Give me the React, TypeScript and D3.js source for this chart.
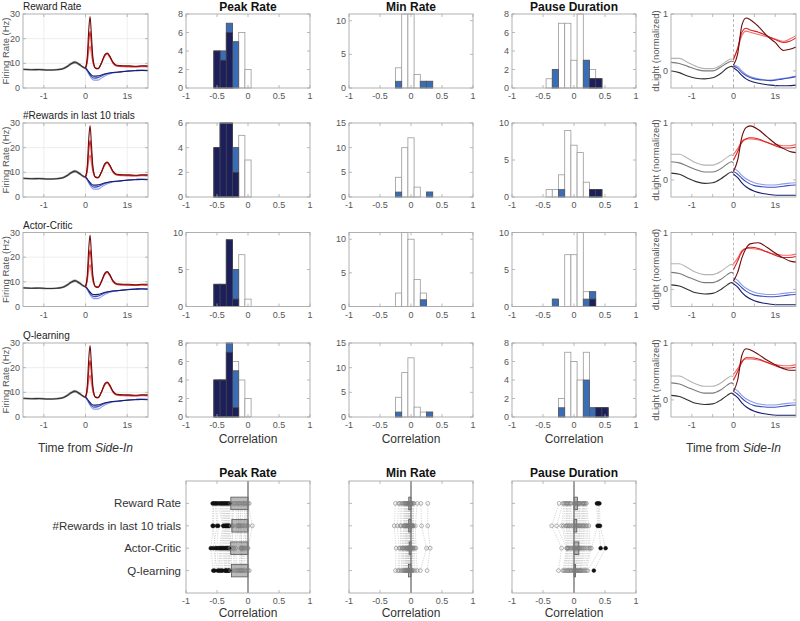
import React from "react";
import * as d3 from "d3";

const FONT = "'Liberation Sans', Arial, Helvetica, sans-serif";

const models = ["Reward Rate", "#Rewards in last 10 trials", "Actor-Critic", "Q-learning"];
const measures = ["Peak Rate", "Min Rate", "Pause Duration"];
const corrTicks = [-1, -0.5, 0, 0.5, 1];
const corrTickLabels = ["-1", "-0.5", "0", "0.5", "1"];
const binCenters = [-0.5, -0.4, -0.3, -0.2, -0.1, 0, 0.1, 0.2, 0.3, 0.4, 0.5];
const binWidth = 0.1;

// ---- histogram counts: [model][bin] ----
const peakAll = [
  [4, 4, 7, 5, 6, 2, 0, 0, 0, 0, 0],
  [4, 6, 6, 4, 5, 3, 0, 0, 0, 0, 0],
  [3, 3, 9, 5, 7, 1, 0, 0, 0, 0, 0],
  [4, 4, 8, 6, 4, 2, 0, 0, 0, 0, 0],
];
const peakSig = [
  [4, 4, 7, 5, 0, 0, 0, 0, 0, 0, 0],
  [4, 6, 6, 4, 0, 0, 0, 0, 0, 0, 0],
  [3, 3, 9, 5, 0, 0, 0, 0, 0, 0, 0],
  [4, 4, 8, 5, 0, 0, 0, 0, 0, 0, 0],
];
const peakDark = [
  [4, 3, 6, 0, 0, 0, 0, 0, 0, 0, 0],
  [4, 6, 6, 2, 0, 0, 0, 0, 0, 0, 0],
  [3, 3, 9, 1, 0, 0, 0, 0, 0, 0, 0],
  [4, 4, 7, 1, 0, 0, 0, 0, 0, 0, 0],
];
const peakYMax = [8, 6, 10, 8];
const peakYTicks = [[0, 2, 4, 6, 8], [0, 2, 4, 6], [0, 5, 10], [0, 2, 4, 6, 8]];

const minAll = [
  [0, 0, 0, 3, 11, 11, 2, 1, 1, 0, 0],
  [0, 0, 0, 4, 10, 12, 2, 0, 1, 0, 0],
  [0, 0, 0, 2, 11, 10, 4, 2, 0, 0, 0],
  [0, 0, 0, 4, 9, 12, 2, 1, 1, 0, 0],
];
const minSig = [
  [0, 0, 0, 1, 0, 0, 0, 1, 1, 0, 0],
  [0, 0, 0, 1, 0, 0, 0, 0, 1, 0, 0],
  [0, 0, 0, 0, 0, 0, 0, 1, 0, 0, 0],
  [0, 0, 0, 1, 0, 0, 0, 0, 1, 0, 0],
];
const minDark = [
  [0, 0, 0, 0, 0, 0, 0, 0, 0, 0, 0],
  [0, 0, 0, 0, 0, 0, 0, 0, 0, 0, 0],
  [0, 0, 0, 0, 0, 0, 0, 0, 0, 0, 0],
  [0, 0, 0, 0, 0, 0, 0, 0, 0, 0, 0],
];
const minYMax = [11, 15, 11, 15];
const minYTicks = [[0, 5, 10], [0, 5, 10, 15], [0, 5, 10], [0, 5, 10, 15]];

const pauseAll = [
  [0, 1, 2, 7, 7, 3, 8, 3, 2, 1, 0],
  [0, 1, 1, 3, 9, 7, 6, 2, 1, 1, 0],
  [0, 0, 1, 0, 7, 7, 10, 2, 2, 0, 0],
  [0, 0, 0, 2, 7, 6, 4, 7, 1, 1, 1],
];
const pauseSig = [
  [0, 0, 2, 0, 0, 0, 0, 3, 1, 1, 0],
  [0, 0, 0, 1, 0, 0, 0, 0, 1, 1, 0],
  [0, 0, 1, 0, 0, 0, 0, 1, 2, 0, 0],
  [0, 0, 0, 1, 0, 0, 0, 4, 1, 1, 1],
];
const pauseDark = [
  [0, 0, 0, 0, 0, 0, 0, 0, 1, 1, 0],
  [0, 0, 0, 0, 0, 0, 0, 0, 1, 1, 0],
  [0, 0, 0, 0, 0, 0, 0, 0, 1, 0, 0],
  [0, 0, 0, 0, 0, 0, 0, 0, 0, 1, 1],
];
const pauseYMax = [8, 10, 10, 8];
const pauseYTicks = [[0, 2, 4, 6, 8], [0, 5, 10], [0, 5, 10], [0, 2, 4, 6, 8]];

// ---- per-neuron correlations (bottom panels): [model][neuron] ----
const peakVals = [
  [-0.57, -0.55, -0.53, -0.51, -0.49, -0.46, -0.44, -0.42, -0.4, -0.38, -0.36, -0.34, -0.32, -0.3, -0.28, -0.25, -0.22, -0.2, -0.17, -0.15, -0.13, -0.1, -0.08, -0.06, -0.04, -0.02, 0.0, 0.02],
  [-0.56, -0.57, -0.5, -0.48, -0.4, -0.39, -0.37, -0.36, -0.35, -0.34, -0.33, -0.32, -0.31, -0.3, -0.27, -0.24, -0.26, -0.18, -0.15, -0.16, -0.12, -0.14, -0.1, -0.05, -0.02, 0.0, 0.07, -0.08],
  [-0.6, -0.52, -0.56, -0.5, -0.47, -0.45, -0.43, -0.41, -0.39, -0.37, -0.35, -0.33, -0.31, -0.3, -0.29, -0.27, -0.24, -0.23, -0.2, -0.12, -0.1, -0.09, -0.11, -0.08, -0.06, -0.03, 0.0, -0.01],
  [-0.56, -0.54, -0.49, -0.47, -0.45, -0.43, -0.41, -0.37, -0.36, -0.35, -0.34, -0.32, -0.31, -0.3, -0.28, -0.26, -0.22, -0.19, -0.17, -0.15, -0.13, -0.11, -0.1, -0.08, -0.06, -0.03, 0.0, 0.02],
];
const minVals = [
  [-0.25, -0.2, -0.18, -0.15, -0.13, -0.11, -0.1, -0.09, -0.08, -0.07, -0.06, -0.05, -0.05, -0.04, -0.03, -0.03, -0.02, -0.02, -0.01, -0.01, 0.0, 0.0, 0.01, 0.02, 0.03, 0.05, 0.1, 0.16, 0.27],
  [-0.27, -0.22, -0.17, -0.16, -0.12, -0.11, -0.09, -0.1, -0.07, -0.08, -0.06, -0.04, -0.05, -0.04, -0.02, -0.03, -0.01, -0.02, 0.0, -0.01, 0.01, 0.0, 0.02, 0.01, 0.04, 0.03, 0.07, 0.17, 0.27],
  [-0.24, -0.19, -0.17, -0.14, -0.14, -0.12, -0.11, -0.08, -0.09, -0.06, -0.07, -0.05, -0.06, -0.03, -0.04, -0.02, -0.03, -0.01, -0.02, 0.0, -0.01, 0.01, 0.02, 0.03, 0.04, 0.06, 0.08, 0.25, 0.31],
  [-0.25, -0.21, -0.19, -0.16, -0.14, -0.12, -0.11, -0.1, -0.09, -0.08, -0.07, -0.06, -0.06, -0.05, -0.04, -0.04, -0.03, -0.02, -0.02, -0.01, 0.0, 0.0, 0.01, 0.02, 0.03, 0.06, 0.1, 0.15, 0.26],
];
const pauseVals = [
  [-0.24, -0.18, -0.16, -0.14, -0.12, -0.11, -0.1, -0.08, -0.06, -0.05, 0.0, 0.02, 0.03, 0.05, 0.06, 0.07, 0.08, 0.09, 0.1, 0.13, 0.14, 0.15, 0.16, 0.17, 0.19, 0.2, 0.37, 0.39, 0.41],
  [-0.36, -0.28, -0.2, -0.17, -0.13, -0.12, -0.1, -0.08, -0.07, -0.04, -0.02, 0.0, 0.02, 0.03, 0.05, 0.06, 0.08, 0.09, 0.1, 0.12, 0.14, 0.15, 0.17, 0.19, 0.21, 0.24, 0.38, 0.4, 0.42],
  [-0.2, -0.12, -0.11, -0.1, -0.09, -0.07, -0.05, -0.03, -0.01, 0.0, 0.01, 0.02, 0.03, 0.05, 0.06, 0.07, 0.08, 0.09, 0.1, 0.12, 0.14, 0.16, 0.18, 0.21, 0.24, 0.26, 0.28, 0.43, 0.51],
  [-0.25, -0.18, -0.16, -0.14, -0.12, -0.1, -0.09, -0.07, -0.05, -0.04, -0.02, 0.0, 0.01, 0.02, 0.03, 0.04, 0.05, 0.06, 0.08, 0.09, 0.1, 0.11, 0.12, 0.14, 0.16, 0.18, 0.2, 0.22, 0.32],
];
// significance thresholds for filled markers
const peakFilledBelow = -0.295;
const pauseFilledAbove = 0.3;

// ---- firing-rate traces (Hz) ----
const frPreT = [-1.5, -1.3, -1.1, -0.9, -0.7, -0.55, -0.45, -0.35, -0.25, -0.15, -0.05, 0];
const frPre = [
  [7.8, 7.6, 7.7, 7.5, 7.6, 8.0, 8.9, 10.1, 10.8, 9.9, 8.6, 8.2],
  [7.4, 7.3, 7.3, 7.2, 7.3, 7.6, 8.4, 9.5, 10.2, 9.3, 8.2, 7.8],
  [7.6, 7.4, 7.5, 7.3, 7.4, 7.8, 8.6, 9.8, 10.5, 9.6, 8.4, 8.0],
];
const frRedT = [0, 0.04, 0.08, 0.11, 0.14, 0.18, 0.24, 0.3, 0.38, 0.46, 0.52, 0.58, 0.66, 0.75, 0.9, 1.05, 1.2, 1.35, 1.5];
const frRed = [
  [8.0, 10, 15, 17, 14, 10, 8.2, 8, 10, 12.8, 13.8, 12.5, 10.0, 8.8, 8.6, 8.5, 8.5, 8.6, 8.5],
  [8.0, 11, 19, 23, 18, 11, 8, 7.8, 10, 13.0, 14.0, 12.8, 10.2, 9.0, 8.8, 8.7, 8.6, 8.8, 8.7],
  [8.0, 12, 24, 29, 22, 12, 8, 7.8, 10, 13.5, 14.2, 13, 10.5, 9.2, 9.0, 9.0, 8.8, 9.0, 9.0],
];
const frBlueT = [0, 0.05, 0.1, 0.15, 0.2, 0.3, 0.4, 0.5, 0.6, 0.8, 1.0, 1.2, 1.35, 1.5];
const frBlue = [
  [8.0, 6.6, 5.0, 3.8, 3.2, 3.2, 4.2, 5.2, 5.8, 6.4, 6.8, 7.1, 7.3, 7.2],
  [8.0, 6.9, 5.5, 4.5, 4.0, 4.2, 5.0, 5.7, 6.1, 6.5, 6.9, 7.1, 7.2, 7.1],
  [8.0, 7.2, 6.0, 5.1, 4.8, 4.9, 5.4, 5.9, 6.2, 6.5, 6.8, 7.0, 7.1, 7.0],
];

// ---- dLight traces (normalized): [row][light, mid, dark][t] ----
const dlPreT = [-1.5, -1.3, -1.1, -0.9, -0.7, -0.5, -0.3, -0.15, -0.05, 0];
const dlPre = [
  [[0.22, 0.22, 0.15, 0.08, 0.04, 0.04, 0.1, 0.18, 0.21, 0.2], [0.15, 0.13, 0.08, 0.03, 0.0, 0.0, 0.07, 0.14, 0.17, 0.16], [0.0, -0.03, -0.09, -0.13, -0.14, -0.12, -0.04, 0.05, 0.08, 0.06]],
  [[0.45, 0.45, 0.38, 0.3, 0.26, 0.26, 0.32, 0.4, 0.44, 0.42], [0.32, 0.3, 0.24, 0.18, 0.14, 0.14, 0.2, 0.28, 0.32, 0.3], [0.12, 0.1, 0.03, -0.03, -0.06, -0.05, 0.02, 0.1, 0.14, 0.12]],
  [[0.45, 0.45, 0.38, 0.3, 0.26, 0.26, 0.32, 0.4, 0.44, 0.42], [0.3, 0.28, 0.22, 0.16, 0.12, 0.12, 0.18, 0.26, 0.3, 0.28], [0.08, 0.06, 0.0, -0.06, -0.08, -0.07, 0.0, 0.08, 0.12, 0.1]],
  [[0.42, 0.42, 0.35, 0.28, 0.24, 0.24, 0.3, 0.38, 0.42, 0.4], [0.3, 0.28, 0.22, 0.16, 0.12, 0.12, 0.18, 0.26, 0.3, 0.28], [0.08, 0.06, 0.0, -0.06, -0.08, -0.07, 0.0, 0.08, 0.12, 0.1]],
];
const dlRedT = [0, 0.1, 0.2, 0.3, 0.4, 0.6, 0.8, 1.0, 1.2, 1.35, 1.5];
const dlRed = [
  [[0.22, 0.38, 0.62, 0.7, 0.68, 0.64, 0.6, 0.56, 0.52, 0.56, 0.62], [0.2, 0.4, 0.68, 0.75, 0.72, 0.68, 0.62, 0.55, 0.5, 0.52, 0.58], [0.1, 0.3, 0.8, 0.93, 0.9, 0.78, 0.62, 0.5, 0.36, 0.38, 0.42]],
  [[0.45, 0.55, 0.68, 0.72, 0.72, 0.7, 0.66, 0.62, 0.6, 0.6, 0.62], [0.35, 0.5, 0.66, 0.72, 0.74, 0.72, 0.66, 0.6, 0.56, 0.56, 0.58], [0.15, 0.35, 0.75, 0.92, 0.95, 0.88, 0.76, 0.64, 0.55, 0.5, 0.48]],
  [[0.45, 0.55, 0.68, 0.72, 0.72, 0.7, 0.66, 0.62, 0.6, 0.6, 0.62], [0.35, 0.5, 0.66, 0.72, 0.74, 0.72, 0.66, 0.6, 0.56, 0.56, 0.58], [0.15, 0.3, 0.55, 0.72, 0.8, 0.82, 0.74, 0.64, 0.55, 0.5, 0.48]],
  [[0.45, 0.55, 0.68, 0.72, 0.72, 0.7, 0.66, 0.62, 0.6, 0.6, 0.62], [0.35, 0.5, 0.66, 0.74, 0.74, 0.72, 0.66, 0.6, 0.56, 0.56, 0.58], [0.15, 0.35, 0.78, 0.9, 0.88, 0.8, 0.7, 0.62, 0.55, 0.52, 0.52]],
];
const dlBlueT = [0, 0.1, 0.2, 0.3, 0.5, 0.7, 0.9, 1.1, 1.3, 1.5];
const dlBlue = [
  [[0.1, 0.08, 0.0, -0.06, -0.12, -0.15, -0.16, -0.14, -0.12, -0.09], [0.08, 0.05, -0.03, -0.08, -0.14, -0.16, -0.17, -0.15, -0.13, -0.1], [0.05, 0.0, -0.08, -0.14, -0.2, -0.23, -0.25, -0.26, -0.26, -0.25]],
  [[0.2, 0.16, 0.08, 0.02, -0.05, -0.08, -0.09, -0.08, -0.06, -0.05], [0.15, 0.1, 0.03, -0.03, -0.1, -0.12, -0.13, -0.12, -0.1, -0.09], [0.1, 0.04, -0.05, -0.12, -0.2, -0.24, -0.26, -0.27, -0.27, -0.27]],
  [[0.2, 0.16, 0.08, 0.02, -0.05, -0.08, -0.09, -0.08, -0.06, -0.05], [0.15, 0.1, 0.03, -0.03, -0.1, -0.12, -0.13, -0.12, -0.1, -0.09], [0.1, 0.04, -0.05, -0.12, -0.2, -0.24, -0.26, -0.27, -0.27, -0.27]],
  [[0.2, 0.16, 0.08, 0.02, -0.05, -0.08, -0.09, -0.08, -0.06, -0.05], [0.15, 0.1, 0.03, -0.03, -0.1, -0.12, -0.13, -0.12, -0.1, -0.09], [0.1, 0.04, -0.05, -0.12, -0.2, -0.24, -0.26, -0.27, -0.27, -0.27]],
];

const greys = ["#b4b4b4", "#7a7a7a", "#303030"];
const reds = ["#f26b6b", "#d92020", "#6a0d0d"];
const blues = ["#8a9ce8", "#3d4fc0", "#171c6a"];

// ---- layout ----
const colX: [number, number][] = [[23, 148], [186, 310], [349, 473], [512, 636], [671, 796]];
const rowTop = [14, 123, 232.5, 343];
const rowH = 74;
const botTop = 481;
const botBot = 593;

const AX = "#a8a8a8";
const TXT = "#555";

type AxProps = {
  xs: d3.ScaleLinear<number, number>;
  ys: d3.ScaleLinear<number, number>;
  xTicks: number[];
  xLabels?: string[];
  yTicks: number[];
  yLabels?: string[];
};

function Axes({ xs, ys, xTicks, xLabels, yTicks, yLabels }: AxProps) {
  const [x0, x1] = xs.range();
  const yr = ys.range();
  const yb = Math.max(yr[0], yr[1]);
  const yt = Math.min(yr[0], yr[1]);
  return (
    <g fontFamily={FONT} fontSize={9} fill={TXT}>
      <rect x={x0} y={yt} width={x1 - x0} height={yb - yt} fill="none" stroke={AX} strokeWidth={0.9} />
      {xTicks.map((t, i) => (
        <g key={"x" + i}>
          <line x1={xs(t)} x2={xs(t)} y1={yb} y2={yb - 3} stroke={AX} strokeWidth={0.8} />
          <line x1={xs(t)} x2={xs(t)} y1={yt} y2={yt + 3} stroke={AX} strokeWidth={0.8} />
          {xLabels && (
            <text x={xs(t)} y={yb + 11} textAnchor="middle">
              {xLabels[i]}
            </text>
          )}
        </g>
      ))}
      {yTicks.map((t, i) => (
        <g key={"y" + i}>
          <line x1={x0} x2={x0 + 3} y1={ys(t)} y2={ys(t)} stroke={AX} strokeWidth={0.8} />
          <line x1={x1} x2={x1 - 3} y1={ys(t)} y2={ys(t)} stroke={AX} strokeWidth={0.8} />
          {yLabels && (
            <text x={x0 - 3} y={ys(t) + 3} textAnchor="end">
              {yLabels[i]}
            </text>
          )}
        </g>
      ))}
    </g>
  );
}

function Grid({ xs, ys, xTicks, yTicks }: { xs: any; ys: any; xTicks: number[]; yTicks: number[] }) {
  const [x0, x1] = xs.range();
  const [yb, yt] = ys.range();
  return (
    <g stroke="#e6e6e6" strokeWidth={0.7}>
      {xTicks.map((t, i) => (
        <line key={"gx" + i} x1={xs(t)} x2={xs(t)} y1={yt} y2={yb} />
      ))}
      {yTicks.map((t, i) => (
        <line key={"gy" + i} x1={x0} x2={x1} y1={ys(t)} y2={ys(t)} />
      ))}
    </g>
  );
}

function Traces({ xs, ys, T, sets, colors, width }: { xs: any; ys: any; T: number[]; sets: number[][]; colors: string[]; width: number }) {
  const line = d3
    .line<number>()
    .x((_, i) => xs(T[i]))
    .y((v) => ys(v))
    .curve(d3.curveMonotoneX);
  return (
    <g fill="none">
      {sets.map((s, i) => (
        <path key={i} d={line(s) || ""} stroke={colors[i]} strokeWidth={width} />
      ))}
    </g>
  );
}

function FRPanel({ r }: { r: number }) {
  const xs = d3.scaleLinear().domain([-1.5, 1.5]).range(colX[0]);
  const ys = d3.scaleLinear().domain([0, 30]).range([rowTop[r] + rowH, rowTop[r]]);
  return (
    <g>
      <Grid xs={xs} ys={ys} xTicks={[-1, 0, 1]} yTicks={[10, 20]} />
      <Traces xs={xs} ys={ys} T={frPreT} sets={frPre} colors={greys} width={1.1} />
      <Traces xs={xs} ys={ys} T={frBlueT} sets={frBlue} colors={blues} width={1.1} />
      <Traces xs={xs} ys={ys} T={frRedT} sets={frRed} colors={reds} width={1.1} />
      <Axes xs={xs} ys={ys} xTicks={[-1, 0, 1]} xLabels={["-1", "0", "1s"]} yTicks={[0, 10, 20, 30]} yLabels={["0", "10", "20", "30"]} />
      <text x={colX[0][0]} y={rowTop[r] - 4} fontFamily={FONT} fontSize={10} fill="#222">
        {models[r]}
      </text>
      <text
        transform={`translate(${9},${rowTop[r] + rowH / 2}) rotate(-90)`}
        textAnchor="middle"
        fontFamily={FONT}
        fontSize={9.5}
        fill={TXT}
      >
        Firing Rate (Hz)
      </text>
    </g>
  );
}

function DLPanel({ r }: { r: number }) {
  const xs = d3.scaleLinear().domain([-1.5, 1.5]).range(colX[4]);
  const ys = d3.scaleLinear().domain([-0.3, 1]).range([rowTop[r] + rowH, rowTop[r]]);
  return (
    <g>
      <line x1={xs(0)} x2={xs(0)} y1={rowTop[r]} y2={rowTop[r] + rowH} stroke="#aaa" strokeWidth={0.8} strokeDasharray="3,2" />
      <Traces xs={xs} ys={ys} T={dlPreT} sets={dlPre[r]} colors={greys} width={1.1} />
      <Traces xs={xs} ys={ys} T={dlBlueT} sets={dlBlue[r]} colors={blues} width={1.1} />
      <Traces xs={xs} ys={ys} T={dlRedT} sets={dlRed[r]} colors={reds} width={1.1} />
      <Axes xs={xs} ys={ys} xTicks={[-1, -0.5, 0, 0.5, 1]} xLabels={["-1", "", "0", "", "1s"]} yTicks={[0, 1]} yLabels={["0", "1"]} />
      <text
        transform={`translate(${659},${rowTop[r] + rowH / 2}) rotate(-90)`}
        textAnchor="middle"
        fontFamily={FONT}
        fontSize={9.5}
        fill={TXT}
      >
        dLight (normalized)
      </text>
    </g>
  );
}

function HistPanel({ c, r, all, sig, dark, yMax, yTicks }: { c: number; r: number; all: number[]; sig: number[]; dark: number[]; yMax: number; yTicks: number[] }) {
  const xs = d3.scaleLinear().domain([-1, 1]).range(colX[c]);
  const ys = d3.scaleLinear().domain([0, yMax]).range([rowTop[r] + rowH, rowTop[r]]);
  const bar = (counts: number[], fill: string, stroke: string, key: string) =>
    counts.map((n, i) =>
      n > 0 ? (
        <rect
          key={key + i}
          x={xs(binCenters[i] - binWidth / 2)}
          y={ys(Math.min(n, yMax))}
          width={xs(binCenters[i] + binWidth / 2) - xs(binCenters[i] - binWidth / 2)}
          height={ys(0) - ys(Math.min(n, yMax))}
          fill={fill}
          stroke={stroke}
          strokeWidth={0.8}
        />
      ) : null
    );
  return (
    <g>
      {bar(all, "#ffffff", "#9a9a9a", "a")}
      {bar(sig, "#3a6db8", "#555", "s")}
      {bar(dark, "#1c1f5c", "#444", "d")}
      <Axes xs={xs} ys={ys} xTicks={corrTicks} xLabels={corrTickLabels} yTicks={yTicks} yLabels={yTicks.map(String)} />
    </g>
  );
}

function DotPanel({ c, vals, filled, showLabels, title }: { c: number; vals: number[][]; filled: (v: number) => boolean; showLabels: boolean; title: string }) {
  const xs = d3.scaleLinear().domain([-1, 1]).range(colX[c]);
  const ys = d3.scaleLinear().domain([0, 5]).range([botTop, botBot]);
  const n = vals[0].length;
  const barH = ys(0.56) - ys(0);
  const lines: React.ReactNode[] = [];
  for (let r = 0; r < vals.length - 1; r++) {
    for (let i = 0; i < n; i++) {
      lines.push(
        <line
          key={`l${r}-${i}`}
          x1={xs(vals[r][i])}
          y1={ys(r + 1)}
          x2={xs(vals[r + 1][i])}
          y2={ys(r + 2)}
          stroke="#b8b8b8"
          strokeWidth={0.6}
          strokeDasharray="1.2,1.2"
        />
      );
    }
  }
  return (
    <g>
      {lines}
      {vals.map((row, r) => {
        const m = d3.mean(row) as number;
        return (
          <rect
            key={"b" + r}
            x={Math.min(xs(m), xs(0))}
            y={ys(r + 1) - barH / 2}
            width={Math.abs(xs(m) - xs(0))}
            height={barH}
            fill="rgba(130,130,130,0.55)"
            stroke="#555"
            strokeWidth={0.8}
          />
        );
      })}
      <line x1={xs(0)} x2={xs(0)} y1={botTop} y2={botBot} stroke="#777" strokeWidth={1.4} />
      {vals.map((row, r) =>
        row.map((v, i) =>
          filled(v) ? (
            <circle key={`p${r}-${i}`} cx={xs(v)} cy={ys(r + 1)} r={1.9} fill="#111" stroke="#111" strokeWidth={0.5} />
          ) : (
            <circle key={`p${r}-${i}`} cx={xs(v)} cy={ys(r + 1)} r={1.9} fill="none" stroke="#7a7a7a" strokeWidth={0.6} />
          )
        )
      )}
      <Axes xs={xs} ys={ys} xTicks={corrTicks} xLabels={corrTickLabels} yTicks={[1, 2, 3, 4]} />
      {showLabels &&
        models.map((m, r) => (
          <text key={"m" + r} x={colX[c][0] - 5} y={ys(r + 1) + 4} textAnchor="end" fontFamily={FONT} fontSize={11.5} fill="#333">
            {m}
          </text>
        ))}
      <text x={(colX[c][0] + colX[c][1]) / 2} y={botTop - 4} textAnchor="middle" fontFamily={FONT} fontSize={12} fontWeight="bold" fill="#111">
        {title}
      </text>
      <text x={(colX[c][0] + colX[c][1]) / 2} y={617} textAnchor="middle" fontFamily={FONT} fontSize={12} fill="#333">
        Correlation
      </text>
    </g>
  );
}

function TimeLabel({ x, y }: { x: number; y: number }) {
  return (
    <text x={x} y={y} textAnchor="middle" fontFamily={FONT} fontSize={12} fill="#333">
      Time from <tspan fontStyle="italic">Side-In</tspan>
    </text>
  );
}

export default function App() {
  const rows = [0, 1, 2, 3];
  const hist = [
    { all: peakAll, sig: peakSig, dark: peakDark, yMax: peakYMax, yTicks: peakYTicks },
    { all: minAll, sig: minSig, dark: minDark, yMax: minYMax, yTicks: minYTicks },
    { all: pauseAll, sig: pauseSig, dark: pauseDark, yMax: pauseYMax, yTicks: pauseYTicks },
  ];
  return (
    <svg width={800} height={621} style={{ position: "absolute", left: 0, top: 0, background: "#fff" }}>
      <rect width={800} height={621} fill="#fff" />
      {rows.map((r) => (
        <g key={"row" + r}>
          <FRPanel r={r} />
          {hist.map((h, k) => (
            <HistPanel key={k} c={k + 1} r={r} all={h.all[r]} sig={h.sig[r]} dark={h.dark[r]} yMax={h.yMax[r]} yTicks={h.yTicks[r]} />
          ))}
          <DLPanel r={r} />
        </g>
      ))}
      {measures.map((m, k) => (
        <text key={"t" + k} x={(colX[k + 1][0] + colX[k + 1][1]) / 2} y={11} textAnchor="middle" fontFamily={FONT} fontSize={12} fontWeight="bold" fill="#111">
          {m}
        </text>
      ))}
      <TimeLabel x={(colX[0][0] + colX[0][1]) / 2} y={452} />
      <TimeLabel x={(colX[4][0] + colX[4][1]) / 2} y={452} />
      {[1, 2, 3].map((c) => (
        <text key={"cl" + c} x={(colX[c][0] + colX[c][1]) / 2} y={443} textAnchor="middle" fontFamily={FONT} fontSize={12} fill="#333">
          Correlation
        </text>
      ))}
      <DotPanel c={1} vals={peakVals} filled={(v) => v <= peakFilledBelow} showLabels={true} title="Peak Rate" />
      <DotPanel c={2} vals={minVals} filled={() => false} showLabels={false} title="Min Rate" />
      <DotPanel c={3} vals={pauseVals} filled={(v) => v >= pauseFilledAbove} showLabels={false} title="Pause Duration" />
    </svg>
  );
}
